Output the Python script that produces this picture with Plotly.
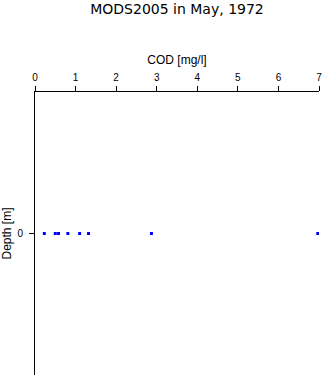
import plotly.graph_objects as go

cod_values = [0.23, 0.5, 0.58, 0.81, 1.1, 1.32, 2.87, 6.97]
depth_values = [0, 0, 0, 0, 0, 0, 0, 0]
x_ticks = [0, 1, 2, 3, 4, 5, 6, 7]
y_ticks = [0]

fig = go.Figure(go.Scatter(
    x=cod_values, y=depth_values, mode="markers",
    marker=dict(symbol="square", size=3, color="#0000ff", line=dict(width=0)),
))

fig.update_layout(
    width=325, height=377,
    margin=dict(l=35, r=6, t=92, b=2),
    paper_bgcolor="white", plot_bgcolor="white",
    font=dict(family="Liberation Sans, Arial, sans-serif", size=10, color="black"),
    title=dict(text="MODS2005 in May, 1972", xref="paper", x=0.5, xanchor="center",
               yref="container", y=0.975, yanchor="middle",
               font=dict(family="DejaVu Sans, sans-serif", size=14, color="black")),
    showlegend=False,
    xaxis=dict(side="top", range=[0, 7], tickvals=x_ticks, ticks="outside", ticklen=5,
               tickcolor="black", showline=True, linecolor="black", linewidth=1,
               showgrid=False, zeroline=False, title=dict(text="COD [mg/l]", standoff=4),
               ticklabelstandoff=1, fixedrange=True),
    yaxis=dict(range=[1, -1], tickvals=y_ticks, ticks="outside", ticklen=5,
               tickcolor="black", showline=True, linecolor="black", linewidth=1,
               showgrid=False, zeroline=False, title=dict(text="Depth [m]", standoff=6),
               ticklabelstandoff=4, fixedrange=True),
)

fig.write_html("out.html")
